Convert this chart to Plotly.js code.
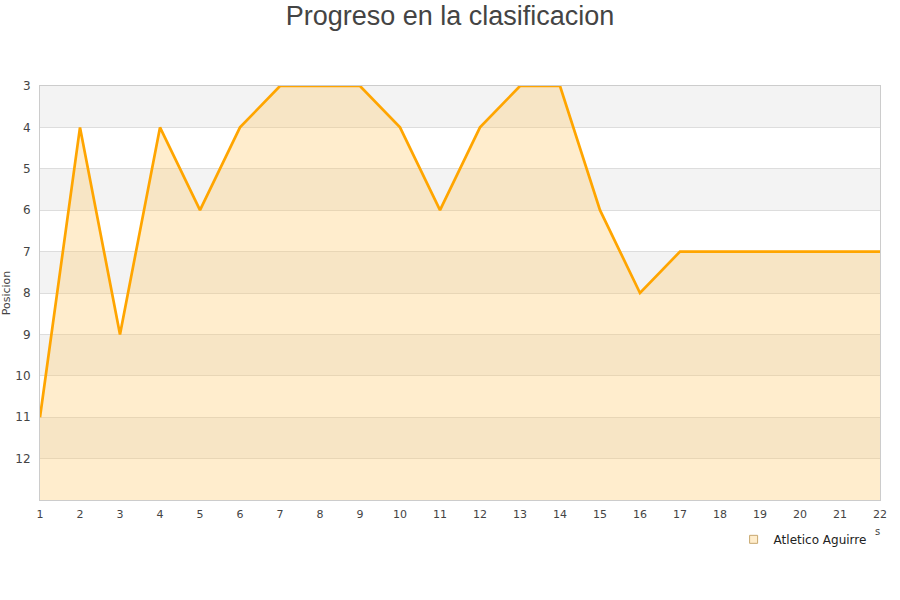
<!DOCTYPE html>
<html>
<head>
<meta charset="utf-8">
<script src="https://cdn.plot.ly/plotly-3.0.1.min.js"></script>
<style>html,body{margin:0;padding:0;background:#fff;}#chart{width:900px;height:600px;}</style>
</head>
<body>
<div id="chart"></div>
<script>
const jornadas = [1,2,3,4,5,6,7,8,9,10,11,12,13,14,15,16,17,18,19,20,21,22];
const posiciones = [11,4,9,4,6,4,3,3,3,4,6,4,3,3,6,8,7,7,7,7,7,7];
const fondo = [13,13,13,13,13,13,13,13,13,13,13,13,13,13,13,13,13,13,13,13,13,13];
const equipo = 'Atletico Aguirre';
const bandas = [[3,4],[5,6],[7,8],[9,10],[11,12]];

const traces = [
  {x: jornadas, y: fondo, mode: 'lines', line: {width: 0}, showlegend: false, hoverinfo: 'skip'},
  {x: jornadas, y: posiciones, mode: 'lines', fill: 'tonexty', fillcolor: 'rgba(255,200,100,0.32)',
   line: {color: '#FFA500', width: 2.7}, name: equipo, showlegend: false},
  {x: [null], y: [null], mode: 'markers', name: equipo,
   marker: {symbol: 'square', size: 8, color: '#FFEDCC', line: {color: '#C8A870', width: 1}}}
];

const shapes = bandas.map(b => ({type: 'rect', xref: 'paper', yref: 'y', x0: 0, x1: 1, y0: b[0], y1: b[1],
  fillcolor: '#F3F3F3', line: {width: 0}, layer: 'below'}));

const layout = {
  width: 900, height: 600,
  margin: {l: 40, r: 20, t: 86, b: 100},
  paper_bgcolor: '#fff', plot_bgcolor: '#fff',
  title: {text: 'Progreso en la clasificacion', font: {family: 'Liberation Sans, Arial, sans-serif', size: 27, color: '#444'}, x: 0.5, xanchor: 'center', y: 0.99, yanchor: 'top'},
  font: {family: 'DejaVu Sans, sans-serif', color: '#444'},
  xaxis: {range: [1, 22], tickvals: jornadas, ticks: '', showgrid: false, zeroline: false, ticklabelstandoff: 4,
    showline: true, linecolor: '#ccc', mirror: true, tickfont: {size: 11, color: '#444'}},
  yaxis: {range: [13, 3], tickvals: [3,4,5,6,7,8,9,10,11,12], ticks: '', showgrid: true, gridcolor: '#dddddd',
    zeroline: false, showline: true, linecolor: '#ccc', mirror: true, ticklabelstandoff: 6, tickfont: {size: 12, color: '#444'},
    title: {text: 'Posicion', font: {size: 11, color: '#444'}, standoff: 6}},
  shapes: shapes,
  showlegend: true,
  legend: {x: 0.99, xanchor: 'right', y: -0.095, yanchor: 'middle', orientation: 'h', font: {size: 12, color: '#222'}, bgcolor: 'rgba(0,0,0,0)'},
  annotations: [{text: 's', xref: 'paper', yref: 'paper', x: 0.9975, xanchor: 'center', y: -0.075, yanchor: 'middle', showarrow: false, font: {size: 10, color: '#444'}}]
};

Plotly.newPlot('chart', traces, layout, {displayModeBar: false});
</script>
</body>
</html>
